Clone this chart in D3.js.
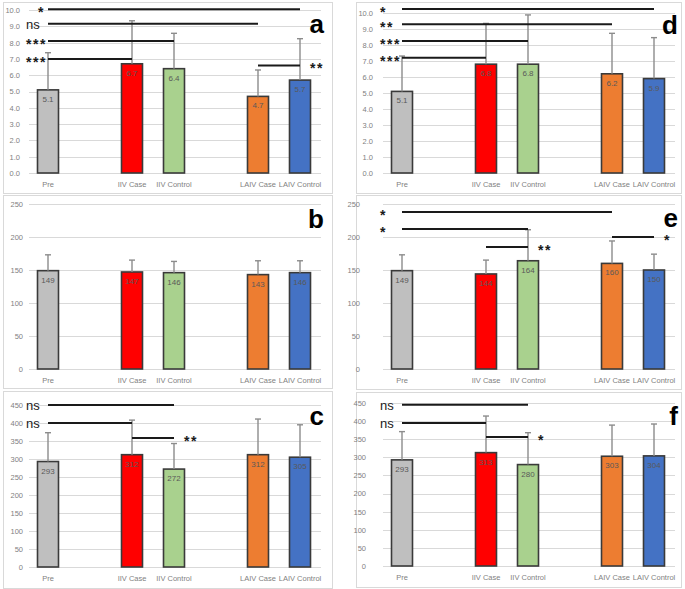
<!DOCTYPE html>
<html><head><meta charset="utf-8">
<script src="https://cdn.jsdelivr.net/npm/d3@7"></script>
<style>
html,body{margin:0;padding:0;background:#fff;}
svg{display:block;}
text{font-family:"Liberation Sans",Arial,sans-serif;}
</style></head>
<body><svg id="chart" width="685" height="589"></svg>
<script>
// ---------- DATA ----------
const categories = ["Pre", "IIV Case", "IIV Control", "LAIV Case", "LAIV Control"];
const slots = ["Pre", "gap1", "IIV Case", "IIV Control", "gap2", "LAIV Case", "LAIV Control"];
const barColors = ["#bfbfbf", "#ff0000", "#a9d18e", "#ed7d31", "#4472c4"];

const meanA = [5.1, 6.7, 6.4, 4.7, 5.7];
const errA  = [2.28, 2.64, 2.17, 1.62, 2.54];
const meanB = [149, 147, 146, 143, 146];
const errB  = [24, 18, 17, 21, 18];
const meanC = [293, 312, 272, 312, 305];
const errC  = [80, 96, 71, 99, 90];
const meanD = [5.1, 6.8, 6.8, 6.2, 5.9];
const errD  = [2.21, 2.55, 3.08, 2.53, 2.56];
const meanE = [149, 144, 164, 160, 150];
const errE  = [24, 21, 47, 34, 24];
const meanF = [293, 313, 280, 303, 304];
const errF  = [78, 101, 88, 86, 88];

const ticksA = [0,1,2,3,4,5,6,7,8,9,10];
const ticksB = [0,50,100,150,200,250];
const ticksC = [0,50,100,150,200,250,300,350,400,450];

const sigA = [
  {from:"Pre", to:"LAIV Control", level:10.05, label:"*", side:"left"},
  {from:"Pre", to:"LAIV Case", level:9.15, label:"ns", side:"left"},
  {from:"Pre", to:"IIV Control", level:8.1, label:"***", side:"left"},
  {from:"Pre", to:"IIV Case", level:7.0, label:"***", side:"left"},
  {from:"LAIV Case", to:"LAIV Control", level:6.6, label:"**", side:"right"}
];
const sigB = [];
const sigC = [
  {from:"Pre", to:"IIV Control", level:450, label:"ns", side:"left"},
  {from:"Pre", to:"IIV Case", level:400, label:"ns", side:"left"},
  {from:"IIV Case", to:"IIV Control", level:358, label:"**", side:"right"}
];
const sigD = [
  {from:"Pre", to:"LAIV Control", level:10.25, label:"*", side:"left"},
  {from:"Pre", to:"LAIV Case", level:9.3, label:"**", side:"left"},
  {from:"Pre", to:"IIV Control", level:8.25, label:"***", side:"left"},
  {from:"Pre", to:"IIV Case", level:7.2, label:"***", side:"left"}
];
const sigE = [
  {from:"Pre", to:"LAIV Case", level:238, label:"*", side:"left"},
  {from:"Pre", to:"IIV Control", level:212, label:"*", side:"left"},
  {from:"IIV Case", to:"IIV Control", level:185, label:"**", side:"right"},
  {from:"LAIV Case", to:"LAIV Control", level:200, label:"*", side:"right"}
];
const sigF = [
  {from:"Pre", to:"IIV Control", level:445, label:"ns", side:"left"},
  {from:"Pre", to:"IIV Case", level:395, label:"ns", side:"left"},
  {from:"IIV Case", to:"IIV Control", level:356, label:"*", side:"right"}
];

// ---------- LAYOUT ----------
const panels = [
  {id:"a", mean:meanA, err:errA, ticks:ticksA, fmt:".1f", max:10,  sig:sigA, frame:[3,2,332,193],   xr:[27,321],  yr:[173,10],  tickDx:7,  letterY:33, singleStarEnd:true},
  {id:"b", mean:meanB, err:errB, ticks:ticksB, fmt:"d",   max:250, sig:sigB, frame:[3,195,332,388], xr:[27,321],  yr:[369,204], tickDx:4,  letterY:228},
  {id:"c", mean:meanC, err:errC, ticks:ticksC, fmt:"d",   max:450, sig:sigC, frame:[3,391,332,588], xr:[27,321],  yr:[567,405], tickDx:4,  letterY:425},
  {id:"d", mean:meanD, err:errD, ticks:ticksA, fmt:".1f", max:10,  sig:sigD, frame:[356,2,681,193], xr:[381,675], yr:[173,13],  tickDx:8,  letterY:34},
  {id:"e", mean:meanE, err:errE, ticks:ticksB, fmt:"d",   max:250, sig:sigE, frame:[356,195,681,389],xr:[381,675], yr:[369,204], tickDx:21, letterY:227},
  {id:"f", mean:meanF, err:errF, ticks:ticksC, fmt:"d",   max:450, sig:sigF, frame:[356,392,681,587],xr:[381,675], yr:[566,403], tickDx:15, letterY:425}
];

const svg = d3.select("#chart");

panels.forEach(p => {
  const g = svg.append("g");
  const [fx0, fy0, fx1, fy1] = p.frame;
  g.append("rect").attr("x", fx0 + 0.5).attr("y", fy0 + 0.5)
    .attr("width", fx1 - fx0).attr("height", fy1 - fy0)
    .attr("fill", "#fff").attr("stroke", "#d9d9d9").attr("stroke-width", 1);

  const x = d3.scaleBand().domain(slots).range(p.xr).paddingInner(0.5).paddingOuter(0.25);
  const y = d3.scaleLinear().domain([0, p.max]).range(p.yr);

  // gridlines
  g.append("g").selectAll("line").data(p.ticks).join("line")
    .attr("x1", p.xr[0] + 2).attr("x2", p.xr[1])
    .attr("y1", d => Math.round(y(d)) + 0.5).attr("y2", d => Math.round(y(d)) + 0.5)
    .attr("stroke", "#d9d9d9").attr("stroke-width", 1);

  // y axis labels
  const yAxis = g.append("g").attr("transform", `translate(${p.xr[0] - p.tickDx},0)`)
    .call(d3.axisLeft(y).tickValues(p.ticks).tickFormat(d3.format(p.fmt)).tickSize(0).tickPadding(0));
  yAxis.select(".domain").remove();
  yAxis.selectAll("text").attr("fill", "#7f7f7f").style("font-size", "7.5px")
    .style("font-family", "'Liberation Sans', Arial, sans-serif");

  // x axis labels
  const xAxis = g.append("g").attr("transform", `translate(0,${p.yr[0]})`)
    .call(d3.axisBottom(x).tickFormat(d => categories.includes(d) ? d : "").tickSize(0).tickPadding(9));
  xAxis.select(".domain").remove();
  xAxis.selectAll("text").attr("fill", "#7f7f7f").style("font-size", "7.5px")
    .style("font-family", "'Liberation Sans', Arial, sans-serif");

  const data = categories.map((c, i) => ({cat: c, v: p.mean[i], e: p.err[i], color: barColors[i]}));

  // bars
  g.append("g").selectAll("rect").data(data).join("rect")
    .attr("x", d => x(d.cat)).attr("width", x.bandwidth())
    .attr("y", d => y(d.v)).attr("height", d => y(0) - y(d.v))
    .attr("fill", d => d.color).attr("stroke", "#3a3a3a").attr("stroke-width", 1.6);

  // error bars
  const eb = g.append("g").attr("stroke", "#8c8c8c").attr("stroke-width", 1.4);
  eb.selectAll("line.v").data(data).join("line").attr("class", "v")
    .attr("x1", d => x(d.cat) + x.bandwidth() / 2).attr("x2", d => x(d.cat) + x.bandwidth() / 2)
    .attr("y1", d => y(d.v)).attr("y2", d => y(d.v + d.e));
  eb.selectAll("line.c").data(data).join("line").attr("class", "c")
    .attr("x1", d => x(d.cat) + x.bandwidth() / 2 - 3).attr("x2", d => x(d.cat) + x.bandwidth() / 2 + 3)
    .attr("y1", d => y(d.v + d.e)).attr("y2", d => y(d.v + d.e));

  // value labels
  g.append("g").selectAll("text").data(data).join("text")
    .attr("x", d => x(d.cat) + x.bandwidth() / 2).attr("y", d => y(d.v) + 12)
    .attr("text-anchor", "middle").attr("fill", "#595959").style("font-size", "8px")
    .text(d => p.fmt === ".1f" ? d3.format(".1f")(d.v) : d.v);

  // significance brackets
  const cx = c => x(c) + x.bandwidth() / 2;
  p.sig.forEach(s => {
    const ly = y(s.level);
    const x1 = cx(s.from), x2 = cx(s.to);
    g.append("line").attr("x1", x1).attr("x2", x2).attr("y1", ly).attr("y2", ly)
      .attr("stroke", "#1a1a1a").attr("stroke-width", 2);
    const isStar = s.label !== "ns";
    const t = g.append("text").text(s.label)
      .attr("fill", "#1a1a1a")
      .style("font-size", isStar ? "14px" : "13px")
      .style("font-weight", isStar ? "bold" : "normal")
      .style("letter-spacing", isStar ? "1.5px" : "0px")
      .attr("y", ly + (isStar ? 8 : 5));
    if (s.side === "left") {
      if (p.singleStarEnd && s.label === "*") t.attr("x", x1 - 3).attr("text-anchor", "end");
      else t.attr("x", p.xr[0] - 1).attr("text-anchor", "start");
    } else t.attr("x", x2 + 10).attr("text-anchor", "start");
  });

  // panel letter
  g.append("text").text(p.id)
    .attr("x", p.xr[1] + 3).attr("y", p.letterY).attr("text-anchor", "end")
    .style("font-size", "26px").style("font-weight", "bold").attr("fill", "#000");
});
</script></body></html>
